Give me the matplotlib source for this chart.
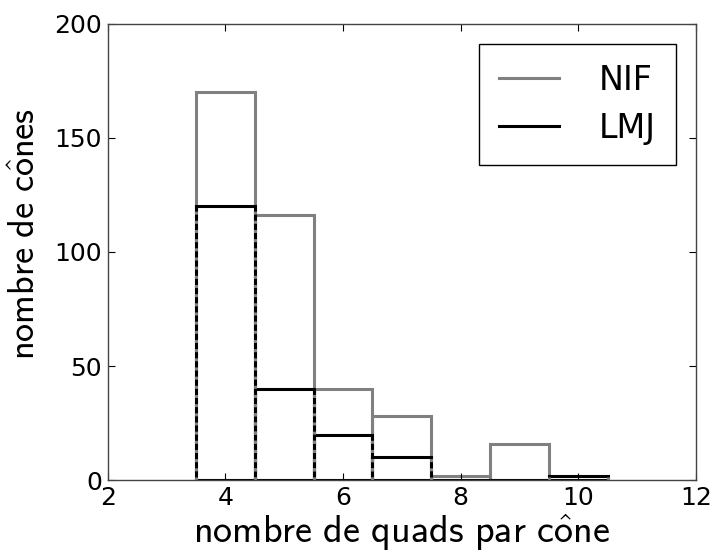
import matplotlib
matplotlib.use('Agg')
import matplotlib.pyplot as plt
import numpy as np

plt.rcParams['mathtext.fontset'] = 'cm'

# bin centres (quads per cone) and counts
quads = [4, 5, 6, 7, 8, 9, 10]
nif_counts = [170, 116, 40, 28, 2, 16, 0]
lmj_counts = [120, 40, 20, 10, 0, 0, 2]

fig = plt.figure(figsize=(7.13, 5.52), dpi=100)
ax = fig.add_axes([0.151, 0.130, 0.825, 0.827])

ax.bar(quads, nif_counts, width=1.0, fill=False, edgecolor='#808080', linewidth=2.2)
ax.bar(quads, lmj_counts, width=1.0, fill=False, edgecolor='black', linewidth=2.2)

# overlapping edges look dashed in the original
for q, h in zip(quads, lmj_counts):
    if h > 0:
        ax.vlines([q - 0.5, q + 0.5], 0, h, colors='#808080', linewidth=2.2,
                  linestyles=[(0, (1.0, 2.0))])

# legend proxies
ax.plot([], [], color='#808080', lw=2.2, label='NIF')
ax.plot([], [], color='black', lw=2.2, label='LMJ')
leg = ax.legend(loc='upper right', fontsize=24, handlelength=1.8, handletextpad=1.2,
                borderpad=0.6, labelspacing=0.45, fancybox=False, framealpha=1,
                borderaxespad=0.6)
leg.get_frame().set_edgecolor('black')
leg.get_frame().set_linewidth(1.0)

ax.set_xlim(2, 12)
ax.set_ylim(0, 200)
ax.set_xticks([2, 4, 6, 8, 10, 12])
ax.set_yticks([0, 50, 100, 150, 200])
ax.tick_params(direction='in', top=True, right=True, labelsize=18, length=5, pad=4)
for sp in ax.spines.values():
    sp.set_linewidth(1.0)
    sp.set_color('#444444')

ax.set_xlabel(r'$\mathsf{nombre\ de\ quads\ par\ c\hat{o}ne}$', fontsize=27.5, labelpad=2)
ax.set_ylabel(r'$\mathsf{nombre\ de\ c\hat{o}nes}$', fontsize=26)
ax.yaxis.set_label_coords(-0.112, 0.54)

fig.savefig('out.png', dpi=100)
